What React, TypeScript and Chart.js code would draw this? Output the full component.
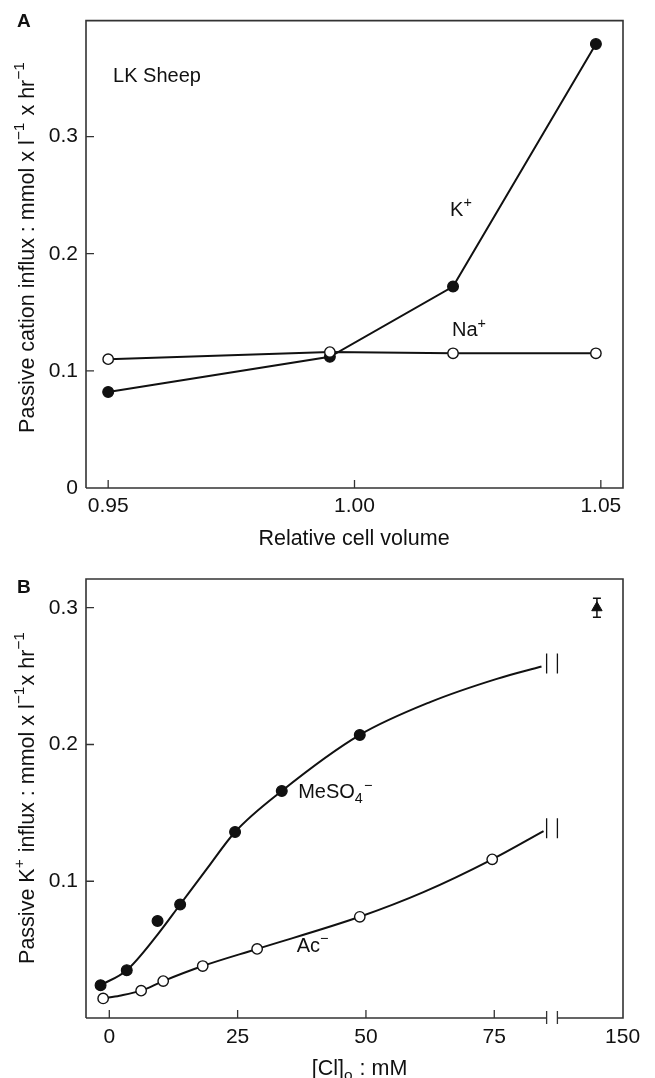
import React, { useEffect, useRef } from "react";
import { Chart, registerables } from "chart.js";

Chart.register(...registerables);

const FONT = "'Liberation Sans', Arial, Helvetica, sans-serif";
const INK = "#111";
const FRAME = "#333";

// ---------- Panel A data ----------
const VOLUME = [0.95, 0.995, 1.02, 1.049];
const K_INFLUX = [0.082, 0.112, 0.172, 0.379];
const NA_INFLUX = [0.11, 0.116, 0.115, 0.115];
const A_X_TICKS = [0.95, 1.0, 1.05];
const A_X_TICK_LABELS = ["0.95", "1.00", "1.05"];
const A_Y_TICKS = [0, 0.1, 0.2, 0.3];
const A_Y_TICK_LABELS = ["0", "0.1", "0.2", "0.3"];

// ---------- Panel B data ----------
const MESO4_CL = [-1.7, 3.4, 9.4, 13.8, 24.5, 33.6, 48.8];
const MESO4_FLUX = [0.024, 0.035, 0.071, 0.083, 0.136, 0.166, 0.207];
const AC_CL = [-1.2, 6.2, 10.5, 18.2, 28.8, 48.8, 74.6];
const AC_FLUX = [0.0143, 0.02, 0.027, 0.038, 0.0505, 0.074, 0.116];
// fitted curves as drawn in the figure
const MESO4_FIT_CL = [-1.7, 3.4, 9.4, 13.8, 19, 24.5, 33.6, 48.8, 62.5, 75.5, 84.2];
const MESO4_FIT = [0.024, 0.035, 0.061, 0.083, 0.109, 0.136, 0.166, 0.207, 0.231, 0.248, 0.257];
const AC_FIT_CL = [-1.2, 2, 6.2, 10.5, 18.2, 28.8, 48.8, 61.2, 74.6, 84.6];
const AC_FIT = [0.0143, 0.0163, 0.02, 0.027, 0.038, 0.0505, 0.074, 0.092, 0.116, 0.1366];
// point beyond the axis break (150 mM Cl)
const NACL_CL = [145];
const NACL_FLUX = [0.3];
const NACL_ERR = [0.007];
const B_X_TICKS = [0, 25, 50, 75, 150];
const B_X_TICK_LABELS = ["0", "25", "50", "75", "150"];
const B_Y_TICKS = [0.1, 0.2, 0.3];
const B_Y_TICK_LABELS = ["0.1", "0.2", "0.3"];
// axis break: real values above the break are drawn shifted by AXIS_SHIFT
const AXIS_SHIFT = 50;
const BREAK_LO = 85.2;
const BREAK_HI = 87.3;
const toAxis = (c: number) => (c > 100 ? c - AXIS_SHIFT : c);

type Seg = { t: string; s?: "sup" | "sub" };

const segFont = (s: Seg, size: number, weight = "normal") =>
  `${weight} ${s.s ? size * 0.72 : size}px ${FONT}`;

function richWidth(ctx: CanvasRenderingContext2D, segs: Seg[], size: number, weight?: string) {
  let w = 0;
  for (const s of segs) {
    ctx.font = segFont(s, size, weight);
    w += ctx.measureText(s.t).width;
  }
  return w;
}

function drawRich(
  ctx: CanvasRenderingContext2D,
  segs: Seg[],
  x: number,
  y: number,
  size: number,
  align: "left" | "center",
  weight?: string
) {
  const w = richWidth(ctx, segs, size, weight);
  let cx = align === "center" ? x - w / 2 : x;
  ctx.textAlign = "left";
  ctx.textBaseline = "alphabetic";
  ctx.fillStyle = INK;
  for (const s of segs) {
    ctx.font = segFont(s, size, weight);
    const dy = s.s === "sup" ? -0.42 * size : s.s === "sub" ? 0.25 * size : 0;
    ctx.fillText(s.t, cx, y + dy);
    cx += ctx.measureText(s.t).width + (s.s ? 1 : 0);
  }
}

type PanelDeco = {
  letter: string;
  letterBaseline: number;
  yTitle: Seg[];
  yTitleCenter: number;
  xTitle: Seg[];
  xTitleCenter: number;
  xTitleBaseline: number;
  xTickMarks: number[];
  yTickMarks: number[];
  labels: { segs: Seg[]; x: number; y: number }[];
  brokenAxis?: boolean;
  curveBreaks?: number[]; // dataset indices whose last point gets "||"
  errorBars?: { x: number[]; y: number[]; e: number[] };
};

function makeDecoPlugin(d: PanelDeco) {
  return {
    id: "deco",
    afterDraw(chart: any) {
      const ctx: CanvasRenderingContext2D = chart.ctx;
      const { left, right, top, bottom } = chart.chartArea;
      const xs = chart.scales.x;
      const ys = chart.scales.y;
      ctx.save();
      // frame
      ctx.strokeStyle = FRAME;
      ctx.lineWidth = 1.6;
      ctx.beginPath();
      ctx.moveTo(left, bottom);
      ctx.lineTo(left, top);
      ctx.lineTo(right, top);
      ctx.lineTo(right, bottom);
      if (d.brokenAxis) {
        const b1 = xs.getPixelForValue(BREAK_LO);
        const b2 = xs.getPixelForValue(BREAK_HI);
        ctx.lineTo(b2, bottom);
        ctx.moveTo(b1, bottom);
        ctx.lineTo(left, bottom);
        ctx.stroke();
        ctx.lineWidth = 1.3;
        ctx.beginPath();
        for (const b of [b1, b2]) {
          ctx.moveTo(b, bottom - 7);
          ctx.lineTo(b, bottom + 6);
        }
      } else {
        ctx.lineTo(left, bottom);
      }
      ctx.stroke();
      // inward tick marks
      ctx.lineWidth = 1.3;
      ctx.strokeStyle = FRAME;
      ctx.beginPath();
      for (const v of d.xTickMarks) {
        const px = xs.getPixelForValue(v);
        ctx.moveTo(px, bottom);
        ctx.lineTo(px, bottom - 8);
      }
      for (const v of d.yTickMarks) {
        const py = ys.getPixelForValue(v);
        ctx.moveTo(left, py);
        ctx.lineTo(left + 8, py);
      }
      ctx.stroke();
      // "||" at curve ends
      if (d.curveBreaks) {
        ctx.strokeStyle = INK;
        ctx.lineWidth = 1.3;
        ctx.beginPath();
        for (const idx of d.curveBreaks) {
          const pts = chart.data.datasets[idx].data;
          const last = pts[pts.length - 1];
          const py = ys.getPixelForValue(last.y) - 3;
          for (const b of [BREAK_LO, BREAK_HI]) {
            const px = xs.getPixelForValue(b);
            ctx.moveTo(px, py - 10);
            ctx.lineTo(px, py + 10);
          }
        }
        ctx.stroke();
      }
      // error bars
      if (d.errorBars) {
        const eb = d.errorBars;
        ctx.strokeStyle = INK;
        ctx.lineWidth = 1.5;
        ctx.beginPath();
        for (let i = 0; i < eb.x.length; i++) {
          const px = xs.getPixelForValue(toAxis(eb.x[i]));
          const y1 = ys.getPixelForValue(eb.y[i] + eb.e[i]);
          const y2 = ys.getPixelForValue(eb.y[i] - eb.e[i]);
          ctx.moveTo(px, y1);
          ctx.lineTo(px, y2);
          ctx.moveTo(px - 4, y1);
          ctx.lineTo(px + 4, y1);
          ctx.moveTo(px - 4, y2);
          ctx.lineTo(px + 4, y2);
        }
        ctx.stroke();
      }
      // in-plot labels
      for (const l of d.labels) {
        drawRich(ctx, l.segs, xs.getPixelForValue(l.x), ys.getPixelForValue(l.y), 20, "left");
      }
      // panel letter
      drawRich(ctx, [{ t: d.letter }], 17, d.letterBaseline, 19, "left", "bold");
      // y title
      ctx.save();
      ctx.translate(33.5, d.yTitleCenter);
      ctx.rotate(-Math.PI / 2);
      drawRich(ctx, d.yTitle, 0, 0, 21.5, "center");
      ctx.restore();
      // x title
      drawRich(ctx, d.xTitle, d.xTitleCenter, d.xTitleBaseline, 21.5, "center");
      ctx.restore();
    },
  };
}

const tickFont = { family: FONT, size: 21 };

export default function App() {
  const refA = useRef<HTMLCanvasElement>(null);
  const refB = useRef<HTMLCanvasElement>(null);

  useEffect(() => {
    const filled = {
      pointRadius: 5.4,
      pointBackgroundColor: INK,
      pointBorderColor: INK,
      pointBorderWidth: 1.2,
    };
    const open = {
      pointRadius: 5.2,
      pointBackgroundColor: "#fff",
      pointBorderColor: INK,
      pointBorderWidth: 1.4,
    };

    const chartA = new Chart(refA.current!, {
      type: "scatter",
      data: {
        datasets: [
          {
            data: VOLUME.map((v, i) => ({ x: v, y: NA_INFLUX[i] })),
            showLine: true,
            borderColor: INK,
            borderWidth: 2,
            ...open,
          },
          {
            data: VOLUME.map((v, i) => ({ x: v, y: K_INFLUX[i] })),
            showLine: true,
            borderColor: INK,
            borderWidth: 2,
            ...filled,
          },
        ],
      },
      options: {
        animation: false,
        responsive: false,
        events: [],
        layout: { padding: { top: 11, right: 32, left: 0, bottom: 0 }, autoPadding: false },
        plugins: { legend: { display: false }, tooltip: { enabled: false } },
        scales: {
          x: {
            type: "linear",
            min: 0.9455,
            max: 1.0545,
            grid: { display: false, drawTicks: false },
            border: { display: false },
            afterBuildTicks: (s: any) => {
              s.ticks = A_X_TICKS.map((v) => ({ value: v }));
            },
            afterFit: (s: any) => {
              s.height = 67;
            },
            ticks: {
              font: tickFont,
              color: INK,
              padding: 6,
              maxRotation: 0,
              callback: (_v: any, i: number) => A_X_TICK_LABELS[i],
            },
          },
          y: {
            type: "linear",
            min: 0,
            max: 0.399,
            grid: { display: false, drawTicks: false },
            border: { display: false },
            afterBuildTicks: (s: any) => {
              s.ticks = A_Y_TICKS.map((v) => ({ value: v }));
            },
            afterFit: (s: any) => {
              s.width = 86;
            },
            ticks: {
              font: tickFont,
              color: INK,
              padding: 8,
              callback: (_v: any, i: number) => A_Y_TICK_LABELS[i],
            },
          },
        },
      } as any,
      plugins: [
        makeDecoPlugin({
          letter: "A",
          letterBaseline: 27,
          yTitle: [
            { t: "Passive cation influx : mmol x l" },
            { t: "\u22121", s: "sup" },
            { t: " x hr" },
            { t: "\u22121", s: "sup" },
          ],
          yTitleCenter: 248,
          xTitle: [{ t: "Relative cell volume" }],
          xTitleCenter: 354,
          xTitleBaseline: 545,
          xTickMarks: A_X_TICKS,
          yTickMarks: A_Y_TICKS.filter((v) => v > 0),
          labels: [
            { segs: [{ t: "LK Sheep" }], x: 0.951, y: 0.3464 },
            { segs: [{ t: "K" }, { t: "+", s: "sup" }], x: 1.0194, y: 0.2326 },
            { segs: [{ t: "Na" }, { t: "+", s: "sup" }], x: 1.0198, y: 0.1294 },
          ],
        }) as any,
      ],
    });

    const chartB = new Chart(refB.current!, {
      type: "scatter",
      data: {
        datasets: [
          {
            data: MESO4_CL.map((c, i) => ({ x: toAxis(c), y: MESO4_FLUX[i] })),
            ...filled,
          },
          {
            data: AC_CL.map((c, i) => ({ x: toAxis(c), y: AC_FLUX[i] })),
            ...open,
          },
          {
            data: NACL_CL.map((c, i) => ({ x: toAxis(c), y: NACL_FLUX[i] })),
            pointStyle: "triangle",
            pointRadius: 6,
            pointBackgroundColor: INK,
            pointBorderColor: INK,
            pointBorderWidth: 1,
          },
          {
            data: MESO4_FIT_CL.map((c, i) => ({ x: toAxis(c), y: MESO4_FIT[i] })),
            showLine: true,
            pointRadius: 0,
            borderColor: INK,
            borderWidth: 2,
            cubicInterpolationMode: "monotone",
          },
          {
            data: AC_FIT_CL.map((c, i) => ({ x: toAxis(c), y: AC_FIT[i] })),
            showLine: true,
            pointRadius: 0,
            borderColor: INK,
            borderWidth: 2,
            cubicInterpolationMode: "monotone",
          },
        ],
      },
      options: {
        animation: false,
        responsive: false,
        events: [],
        layout: { padding: { top: 24, right: 32, left: 0, bottom: 0 }, autoPadding: false },
        plugins: { legend: { display: false }, tooltip: { enabled: false } },
        scales: {
          x: {
            type: "linear",
            min: -4.54,
            max: 100.08,
            grid: { display: false, drawTicks: false },
            border: { display: false },
            afterBuildTicks: (s: any) => {
              s.ticks = B_X_TICKS.map((v) => ({ value: toAxis(v) }));
            },
            afterFit: (s: any) => {
              s.height = 60;
            },
            ticks: {
              font: tickFont,
              color: INK,
              padding: 7,
              maxRotation: 0,
              callback: (_v: any, i: number) => B_X_TICK_LABELS[i],
            },
          },
          y: {
            type: "linear",
            min: 0,
            max: 0.321,
            grid: { display: false, drawTicks: false },
            border: { display: false },
            afterBuildTicks: (s: any) => {
              s.ticks = B_Y_TICKS.map((v) => ({ value: v }));
            },
            afterFit: (s: any) => {
              s.width = 86;
            },
            ticks: {
              font: tickFont,
              color: INK,
              padding: 8,
              callback: (_v: any, i: number) => B_Y_TICK_LABELS[i],
            },
          },
        },
      } as any,
      plugins: [
        makeDecoPlugin({
          letter: "B",
          letterBaseline: 38,
          yTitle: [
            { t: "Passive K" },
            { t: "+", s: "sup" },
            { t: " influx : mmol x l" },
            { t: "\u22121", s: "sup" },
            { t: "x hr" },
            { t: "\u22121", s: "sup" },
          ],
          yTitleCenter: 244,
          xTitle: [{ t: "[Cl]" }, { t: "o", s: "sub" }, { t: " : mM" }],
          xTitleCenter: 359,
          xTitleBaseline: 520,
          xTickMarks: B_X_TICKS.filter((v) => v < 100),
          yTickMarks: B_Y_TICKS,
          brokenAxis: true,
          curveBreaks: [3, 4],
          errorBars: { x: NACL_CL, y: NACL_FLUX, e: NACL_ERR },
          labels: [
            { segs: [{ t: "MeSO" }, { t: "4", s: "sub" }, { t: "\u2212", s: "sup" }], x: 36.8, y: 0.1608 },
            { segs: [{ t: "Ac" }, { t: "\u2212", s: "sup" }], x: 36.5, y: 0.0484 },
          ],
        }) as any,
      ],
    });

    return () => {
      chartA.destroy();
      chartB.destroy();
    };
  }, []);

  return (
    <div style={{ position: "absolute", left: 0, top: 0, width: 655, height: 1078, background: "#fff" }}>
      <canvas ref={refA} width={655} height={555} style={{ position: "absolute", left: 0, top: 0 }} />
      <canvas ref={refB} width={655} height={523} style={{ position: "absolute", left: 0, top: 555 }} />
    </div>
  );
}
